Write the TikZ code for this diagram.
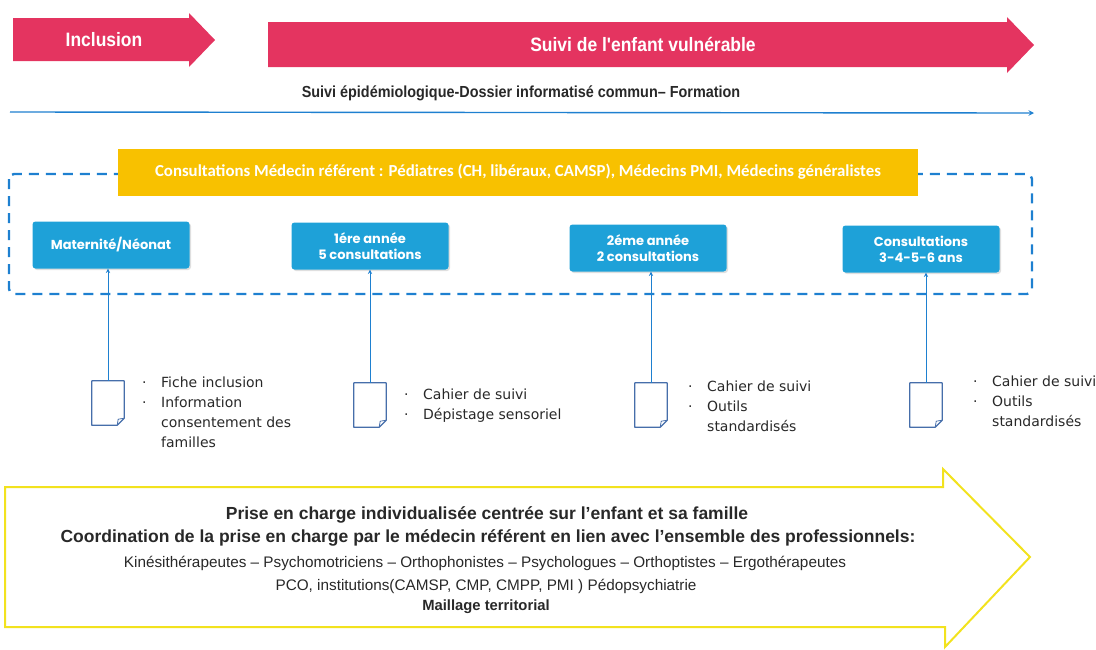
\documentclass[tikz,border=0pt]{standalone}
\usepackage{fontspec}
\setmainfont{Liberation Sans}
\newfontfamily\condfont[FakeStretch=0.9]{Liberation Sans}
\newfontfamily\roundfont{Poppins}
\newfontfamily\calfont{Carlito}
\newfontfamily\docfont{DejaVu Sans}
\usetikzlibrary{arrows}
\usetikzlibrary{shadows}

\definecolor{pinkbar}{RGB}{228,52,96}
\definecolor{boxblue}{RGB}{30,161,216}
\definecolor{lineblue}{RGB}{30,128,208}
\definecolor{refyellow}{RGB}{248,193,0}
\definecolor{outyellow}{RGB}{242,226,30}
\definecolor{docblue}{RGB}{70,110,170}
\definecolor{txtgray}{RGB}{40,40,40}

\newcommand{\bul}{\makebox[19pt][l]{\textperiodcentered}}
\newcommand{\bulgap}{\hspace*{19pt}}

\tikzset{
  phase/.style={text=white, font=\condfont\bfseries\fontsize{19.4}{22}\selectfont},
  stage/.style={fill=boxblue, rounded corners=3pt, minimum width=157pt,
    minimum height=47pt, align=center, text=white,
    font=\roundfont\bfseries\fontsize{13}{16}\selectfont,
    drop shadow={opacity=0.25, shadow xshift=1.5pt, shadow yshift=-1.5pt}},
  docicon/.style={minimum width=32pt, minimum height=44pt, inner sep=0pt},
  docline/.style={draw=docblue, line width=1.2pt, line join=round},
  bullets/.style={anchor=north west, inner sep=0pt, align=left, text=txtgray,
    font=\docfont\fontsize{14}{20}\selectfont},
  uplink/.style={draw=lineblue, line width=0.9pt, -stealth},
  careline/.style={text=txtgray, inner sep=0pt}
}

\begin{document}
\begin{tikzpicture}[x=1pt,y=-1pt]
  \useasboundingbox (0,0) rectangle (1096,649);

  % top phases
  \fill[pinkbar] (13,18) -- (189,18) -- (189,13) -- (215,40) -- (189,67)
    -- (189,61) -- (13,61) -- cycle;
  \fill[pinkbar] (268,22) -- (1007,22) -- (1007,17) -- (1034,45)
    -- (1007,73) -- (1007,67) -- (268,67) -- cycle;
  \node[phase] (incl) at (104,40) {Inclusion};
  \node[phase] (suivi) at (643,44) {Suivi de l'enfant vuln\'erable};

  \node[text=txtgray, font=\condfont\bfseries\fontsize{16}{18}\selectfont]
    (epid) at (521,93) {Suivi \'epid\'emiologique-Dossier informatis\'e commun– Formation};
  \coordinate (tl0) at (10,112);
  \coordinate (tl1) at (1034,113);
  \draw[lineblue, line width=1.4pt, -stealth] (tl0) -- (tl1);

  % consultation frame
  \draw[lineblue, line width=2.4pt, dash pattern=on 10pt off 7pt, rounded corners=5pt]
    (9,174) rectangle (1032,294);
  \node[fill=refyellow, minimum width=800pt, minimum height=47pt, text=white,
    font=\calfont\bfseries\fontsize{16.8}{19}\selectfont] (refm) at (518,172)
    {Consultations M\'edecin r\'ef\'erent : P\'ediatres (CH, lib\'eraux, CAMSP), M\'edecins PMI, M\'edecins g\'en\'eralistes};

  \node[stage] (b1) at (111,245) {Maternit\'e/N\'eonat};
  \node[stage] (b2) at (370,246) {1\'ere ann\'ee\\5 consultations};
  \node[stage] (b3) at (648,248) {2\'eme ann\'ee\\2 consultations};
  \node[stage] (b4) at (921,249) {Consultations\\3-4-5-6 ans};

  % documents
  \node[docicon] (d1) at (108,403) {};
  \node[docicon] (d2) at (370,405) {};
  \node[docicon] (d3) at (651,405) {};
  \node[docicon] (d4) at (926,405) {};
  \foreach \d in {d1,d2,d3,d4}{
    \draw[docline] (\d.north west) -- (\d.north east)
      -- ([yshift=7pt]\d.south east) -- ([xshift=-7pt]\d.south east)
      -- (\d.south west) -- cycle;
    \draw[docline, line width=0.8pt] ([yshift=7pt]\d.south east)
      -- ([xshift=-6pt,yshift=6pt]\d.south east) -- ([xshift=-7pt]\d.south east);
  }
  \foreach \d/\b in {d1/b1,d2/b2,d3/b3,d4/b4}
    \draw[uplink] (\d.north) -- (\d.north |- \b.south);

  \node[bullets] (l1) at (142,377)
    {\bul Fiche inclusion\\\bul Information\\\bulgap consentement des\\\bulgap familles};
  \node[bullets] (l2) at (404,389)
    {\bul Cahier de suivi\\\bul D\'epistage sensoriel};
  \node[bullets] (l3) at (688,381)
    {\bul Cahier de suivi\\\bul Outils\\\bulgap standardis\'es};
  \node[bullets] (l4) at (973,376)
    {\bul Cahier de suivi\\\bul Outils\\\bulgap standardis\'es};

  % care arrow
  \draw[outyellow, line width=2pt, line join=miter] (5,487) -- (943,487) -- (943,469)
    -- (1030,557) -- (945,647) -- (945,627) -- (5,627) -- cycle;
  \node[careline, font=\bfseries\fontsize{17.5}{20}\selectfont] (c1) at (487,515)
    {Prise en charge individualis\'ee centr\'ee sur l'enfant et sa famille};
  \node[careline, font=\bfseries\fontsize{17.5}{20}\selectfont] (c2) at (488,538)
    {Coordination de la prise en charge par le m\'edecin r\'ef\'erent en lien avec l'ensemble des professionnels:};
  \node[careline, font=\fontsize{15.3}{17}\selectfont] (c3) at (485,563)
    {Kin\'esith\'erapeutes – Psychomotriciens – Orthophonistes – Psychologues – Orthoptistes – Ergoth\'erapeutes};
  \node[careline, font=\fontsize{15.3}{17}\selectfont] (c4) at (486,586)
    {PCO, institutions(CAMSP, CMP, CMPP, PMI ) P\'edopsychiatrie};
  \node[careline, font=\bfseries\fontsize{14.8}{17}\selectfont] (c5) at (486,607)
    {Maillage territorial};
\end{tikzpicture}
\end{document}
